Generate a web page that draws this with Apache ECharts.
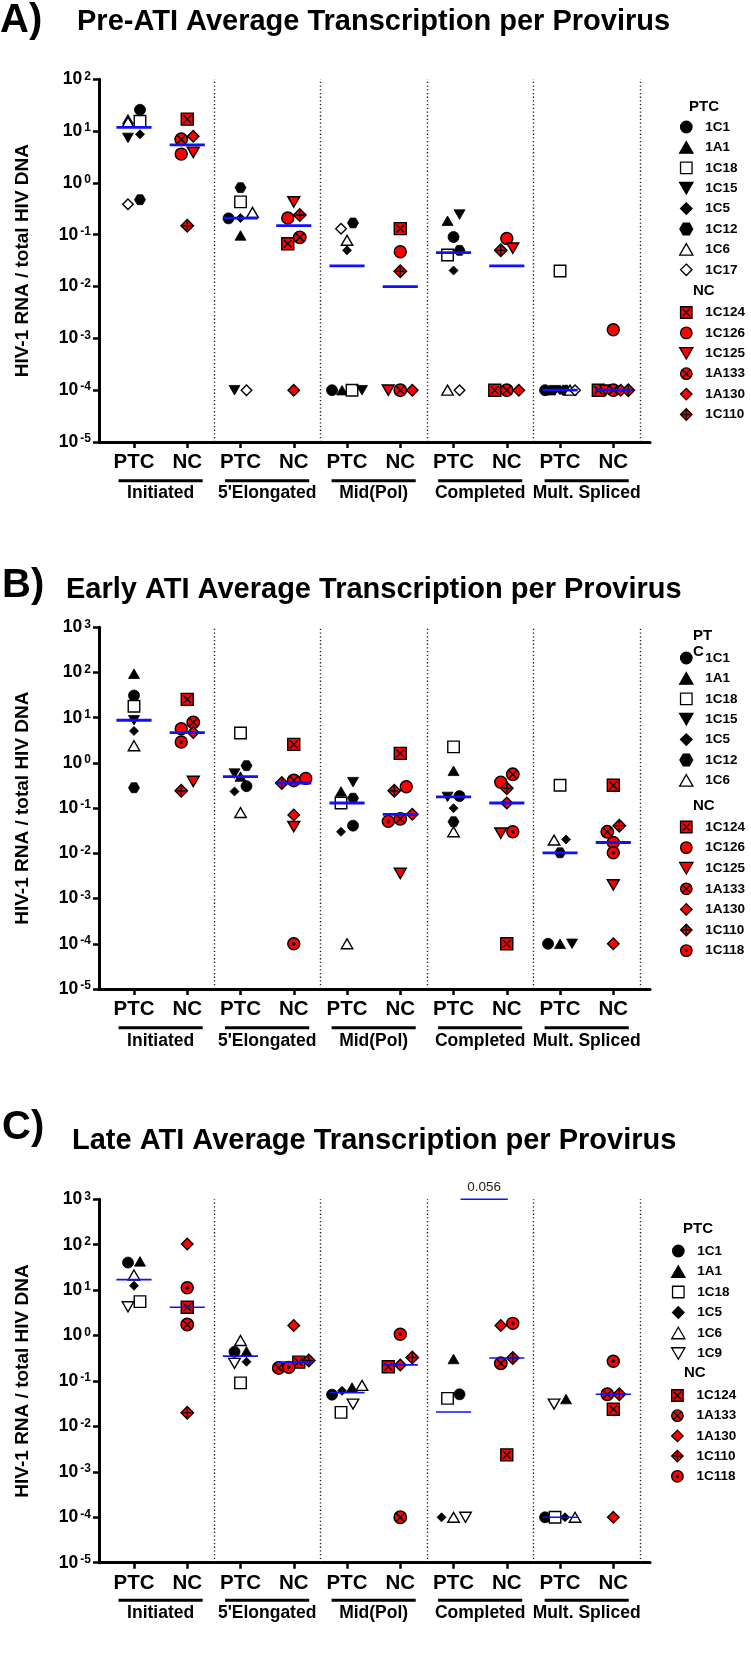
<!DOCTYPE html>
<html>
<head>
<meta charset="utf-8">
<title>Average Transcription per Provirus</title>
<script src="https://cdn.jsdelivr.net/npm/echarts@6/dist/echarts.min.js"></script>
<style>
  html, body { margin: 0; padding: 0; background: #fff; }
  #chart { width: 751px; height: 1659px; }
</style>
</head>
<body>
<div id="chart"></div>
<script>
// x axis: the two cohorts inside every transcript region
const regions = ['Initiated', "5'Elongated", 'Mid(Pol)', 'Completed', 'Mult. Spliced'];
const cohorts = ['PTC', 'NC'];
const columnLabels = ['PTC', 'NC', 'PTC', 'NC', 'PTC', 'NC', 'PTC', 'NC', 'PTC', 'NC'];

// each row: [Initiated, 5'Elongated, Mid(Pol), Completed, Mult. Spliced]
// 1e-4 = not detected (sits on the dotted line)

// A) Pre-ATI
const preNames = ['1C1', '1A1', '1C18', '1C15', '1C5', '1C12', '1C6', '1C17',
  '1C124', '1C126', '1C125', '1A133', '1A130', '1C110'];
const preCohort = ['PTC', 'PTC', 'PTC', 'PTC', 'PTC', 'PTC', 'PTC', 'PTC',
  'NC', 'NC', 'NC', 'NC', 'NC', 'NC'];
const preValues = [
  [25.8, 0.207, 1e-4, 0.0905, 1e-4],
  [17, 0.097, 1e-4, 0.186, 1e-4],
  [15.5, 0.43, 1e-4, 0.0406, 0.02],
  [7.4, 1e-4, 1e-4, 0.245, 1e-4],
  [8.7, 0.21, 0.05, 0.0204, 1e-4],
  [0.475, 0.81, 0.169, 0.05, 1e-4],
  [14.9, 0.27, 0.078, 1e-4, 1e-4],
  [0.386, 1e-4, 0.131, 1e-4, 1e-4],
  [17, 0.067, 0.131, 1e-4, 1e-4],
  [3.6, 0.21, 0.047, 0.0846, 0.00147],
  [3.9, 0.43, 1e-4, 0.055, 1e-4],
  [6.95, 0.089, 1e-4, 1e-4, 1e-4],
  [8.0, 1e-4, 1e-4, 1e-4, 1e-4],
  [0.149, 0.24, 0.0198, 0.05, 1e-4]
];

// B) Early ATI
const earlyNames = ['1C1', '1A1', '1C18', '1C15', '1C5', '1C12', '1C6',
  '1C124', '1C126', '1C125', '1A133', '1A130', '1C110', '1C118'];
const earlyCohort = ['PTC', 'PTC', 'PTC', 'PTC', 'PTC', 'PTC', 'PTC',
  'NC', 'NC', 'NC', 'NC', 'NC', 'NC', 'NC'];
const earlyValues = [
  [31, 0.306, 0.041, 0.185, 1e-4],
  [94, 0.5, 0.234, 0.67, 1e-4],
  [17.9, 4.6, 0.13, 2.27, 0.32],
  [8.8, 0.58, 0.376, 0.177, 1e-4],
  [5.1, 0.234, 0.03, 0.1, 0.0203],
  [0.283, 0.87, 0.166, 0.05, 0.0103],
  [2.4, 0.08, 1e-4, 0.03, 0.0197],
  [25.4, 2.58, 1.63, 1e-4, 0.32],
  [5.7, 0.455, 0.297, 0.376, 0.0174],
  [0.39, 0.039, 0.0036, 0.028, 0.002],
  [7.9, 0.41, 0.058, 0.56, 0.03],
  [4.7, 0.071, 0.073, 0.13, 1e-4],
  [0.242, 0.36, 0.242, 0.274, 0.041],
  [2.9, 1e-4, 0.051, 0.03, 0.0103]
];

// C) Late ATI
const lateNames = ['1C1', '1A1', '1C18', '1C5', '1C6', '1C9',
  '1C124', '1A133', '1A130', '1C110', '1C118'];
const lateCohort = ['PTC', 'PTC', 'PTC', 'PTC', 'PTC', 'PTC',
  'NC', 'NC', 'NC', 'NC', 'NC'];
const lateValues = [
  [40.5, 0.44, 0.05, 0.051, 1e-4],
  [43, 0.45, 0.072, 0.305, 0.04],
  [5.6, 0.091, 0.0204, 0.0415, 1e-4],
  [12.5, 0.265, 0.061, 1e-4, 1e-4],
  [21.6, 0.78, 0.08, 1e-4, 1e-4],
  [4.3, 0.245, 0.031, 1e-4, 0.031],
  [4.2, 0.26, 0.206, 0.00237, 0.0239],
  [1.75, 0.194, 1e-4, 0.245, 0.051],
  [104, 1.67, 0.226, 1.67, 1e-4],
  [0.0201, 0.283, 0.33, 0.32, 0.051],
  [11.3, 0.2, 1.07, 1.86, 0.273]
];
// Completed PTC vs NC, late ATI
const lateCompareColumns = [7, 8];
const lateCompareP = '0.056';

const RED = '#ff0000';
const BLUE = '#1010ff';
const FONT = "'Liberation Sans', Arial, Helvetica, sans-serif";
const Y_MIN = 1e-5;
const X_MIN = 0.343, X_MAX = 10.689;
const GRID_LEFT = 99, GRID_WIDTH = 551;

const shape = {
  circle: 'path://M0,5A5,5,0,1,1,10,5A5,5,0,1,1,0,5Z',
  triangle: 'path://M5,0L10,8.66L0,8.66Z',
  down: 'path://M0,0L10,0L5,8.66Z',
  square: 'path://M0,0L10,0L10,10L0,10Z',
  diamond: 'path://M5,0L10,5L5,10L0,5Z',
  hexagon: 'path://M2.6,0L7.4,0L10,4.5L7.4,9L2.6,9L0,4.5Z',
  squareX: 'path://M0,0L10,0L10,10L0,10Z M1.8,1.8L8.2,8.2 M8.2,1.8L1.8,8.2',
  circleX: 'path://M0,5A5,5,0,1,1,10,5A5,5,0,1,1,0,5Z M1.9,1.9L8.1,8.1 M8.1,1.9L1.9,8.1',
  diamondPlus: 'path://M5,0L10,5L5,10L0,5Z M5,1.6L5,8.4 M1.6,5L8.4,5',
  circleDot: 'path://M0,5A5,5,0,1,1,10,5A5,5,0,1,1,0,5Z M4.1,5A0.9,0.9,0,1,1,5.9,5A0.9,0.9,0,1,1,4.1,5Z'
};
const markers = {
  '1C1': { symbol: shape.circle, fill: '#000', size: 11 },
  '1A1': { symbol: shape.triangle, fill: '#000', size: 11 },
  '1C18': { symbol: shape.square, fill: '#fff', size: 11.5 },
  '1C15': { symbol: shape.down, fill: '#000', size: 11 },
  '1C5': { symbol: shape.diamond, fill: '#000', size: 9 },
  '1C12': { symbol: shape.hexagon, fill: '#000', size: 11 },
  '1C6': { symbol: shape.triangle, fill: '#fff', size: 11.5 },
  '1C17': { symbol: shape.diamond, fill: '#fff', size: 10.5 },
  '1C9': { symbol: shape.down, fill: '#fff', size: 11.5 },
  '1C124': { symbol: shape.squareX, fill: RED, size: 12 },
  '1C126': { symbol: shape.circle, fill: RED, size: 12 },
  '1C125': { symbol: shape.down, fill: RED, size: 12 },
  '1A133': { symbol: shape.circleX, fill: RED, size: 12.5 },
  '1A130': { symbol: shape.diamond, fill: RED, size: 11.5 },
  '1C110': { symbol: shape.diamondPlus, fill: RED, size: 12.5 },
  '1C118': { symbol: shape.circleDot, fill: RED, size: 12 }
};

const panels = [
  {
    letter: 'A)', title: 'Pre-ATI Average Transcription per Provirus',
    names: preNames, cohort: preCohort, values: preValues,
    top: 79.3, height: 362.7, yMax: 1e2, medianWidth: 2.8,
    letterTop: 1, titleLeft: 77, titleTop: 7,
    ptcHead: { text: 'PTC', left: 689, top: 99 }, ncHead: { left: 693, top: 283 },
    legendLeft: 679, ptcTop: 120, ncTop: 305.5, gapPtc: 6.4, gapNc: 6.4,
    barDy: 38.7, labelDy: 51
  },
  {
    letter: 'B)', title: 'Early ATI Average Transcription per Provirus',
    names: earlyNames, cohort: earlyCohort, values: earlyValues,
    top: 627.3, height: 361.7, yMax: 1e3, medianWidth: 2.8,
    letterTop: 566, titleLeft: 66, titleTop: 575,
    ptcHead: { text: 'PT\nC', left: 693, top: 628 }, ncHead: { left: 693, top: 798 },
    legendLeft: 679, ptcTop: 651, ncTop: 820, gapPtc: 6.4, gapNc: 6.6,
    barDy: 38.7, labelDy: 52
  },
  {
    letter: 'C)', title: 'Late ATI Average Transcription per Provirus',
    names: lateNames, cohort: lateCohort, values: lateValues,
    top: 1199.3, height: 363.4, yMax: 1e3, medianWidth: 1.6,
    letterTop: 1108, titleLeft: 72, titleTop: 1126,
    ptcHead: { text: 'PTC', left: 683, top: 1220.5 }, ncHead: { left: 684, top: 1364.5 },
    legendLeft: 671, ptcTop: 1244, ncTop: 1388.5, gapPtc: 6.5, gapNc: 6.2,
    barDy: 37.5, labelDy: 50.5,
    compare: true
  }
];

function median(arr) {
  const s = arr.slice().sort((a, b) => a - b);
  const m = Math.floor(s.length / 2);
  return s.length % 2 ? s[m] : (s[m - 1] + s[m]) / 2;
}

// spread points that share a height, like a column scatter plot
function swarm(pts, pxPerDecade) {
  pts.forEach(p => { p.y = Math.log10(p.v) * pxPerDecade; });
  const sorted = pts.slice().sort((a, b) => b.y - a.y);
  const rows = [];
  sorted.forEach(p => {
    const row = rows[rows.length - 1];
    if (row && row[0].y - p.y < 9.5) row.push(p);
    else rows.push([p]);
  });
  rows.forEach(row => {
    row.sort((a, b) => a.y - b.y);
    const k = row.length;
    const step = k > 1 ? Math.min(12, 30 / (k - 1)) : 0;
    row.forEach((p, i) => { p.dx = (i - (k - 1) / 2) * step; });
  });
  return pts;
}

const grid = [], xAxis = [], yAxis = [], series = [], legend = [], title = [];
const pxPerUnit = GRID_WIDTH / (X_MAX - X_MIN);

panels.forEach((p, pi) => {
  grid.push({ left: GRID_LEFT, width: GRID_WIDTH, top: p.top, height: p.height, outerBoundsMode: 'none' });
  xAxis.push({
    gridIndex: pi, type: 'value', min: X_MIN, max: X_MAX,
    splitLine: { show: false },
    axisLine: { show: true, lineStyle: { color: '#000', width: 3 } },
    axisTick: { show: true, customValues: columnLabels.map((c, i) => i + 1), length: 6, lineStyle: { color: '#000', width: 2.5 } },
    axisLabel: {
      show: true, customValues: columnLabels.map((c, i) => i + 1), margin: 10,
      formatter: v => columnLabels[Math.round(v) - 1],
      color: '#000', fontSize: 20.5, fontWeight: 'bold', fontFamily: FONT
    }
  });
  yAxis.push({
    gridIndex: pi, type: 'log', logBase: 10, min: Y_MIN, max: p.yMax, splitNumber: 10,
    splitLine: { show: false },
    axisLine: { show: true, lineStyle: { color: '#000', width: 3 } },
    axisTick: { show: true, length: 6, lineStyle: { color: '#000', width: 2.5 } },
    axisLabel: {
      margin: 8,
      formatter: v => '{b|10}{e|' + Math.round(Math.log10(v)) + '}',
      rich: {
        b: { fontSize: 17.5, fontWeight: 'bold', color: '#000', fontFamily: FONT },
        e: { fontSize: 12, fontWeight: 'bold', color: '#000', fontFamily: FONT, verticalAlign: 'top', padding: [0, 0, 0, 2] }
      }
    },
    name: 'HIV-1 RNA / total HIV DNA', nameLocation: 'middle', nameRotate: 90, nameGap: 67,
    nameTextStyle: { fontSize: 19, fontWeight: 'bold', color: '#000', fontFamily: FONT }
  });

  // horizontal positions and medians for each column
  const pxPerDecade = p.height / (Math.log10(p.yMax) - Math.log10(Y_MIN));
  const xs = p.names.map(() => regions.map(() => 0));
  const medians = [];
  regions.forEach((r, ri) => {
    cohorts.forEach((c, ci) => {
      const col = 2 * ri + ci + 1;
      const pts = [];
      p.names.forEach((n, si) => { if (p.cohort[si] === c) pts.push({ si: si, v: p.values[si][ri] }); });
      swarm(pts, pxPerDecade).forEach(q => { xs[q.si][ri] = col + q.dx / pxPerUnit; });
      medians.push([col, median(pts.map(q => q.v))]);
    });
  });

  p.names.forEach((n, si) => {
    const m = markers[n];
    const s = {
      type: 'scatter', name: n, xAxisIndex: pi, yAxisIndex: pi,
      symbol: m.symbol, symbolSize: m.size, symbolKeepAspect: true,
      itemStyle: { color: m.fill, borderColor: '#000', borderWidth: m.fill === '#000' ? 0.8 : 1.4, opacity: 1 },
      emphasis: { disabled: true }, silent: true, z: 3,
      data: p.values[si].map((v, ri) => [xs[si][ri], v])
    };
    if (si === 0) {
      s.markLine = {
        silent: true, symbol: ['none', 'none'], label: { show: false }, animation: false,
        lineStyle: { color: '#222', width: 1.4, type: [1.3, 2.4] },
        emphasis: { disabled: true },
        data: regions.map((r, ri) => ({ xAxis: 2 * ri + 2.5 })).concat([{ yAxis: 1e-4 }])
      };
    }
    series.push(s);
  });

  // median bars
  series.push({
    type: 'custom', xAxisIndex: pi, yAxisIndex: pi, silent: true, z: 4,
    encode: { x: 0, y: 1 },
    data: medians,
    renderItem: (params, api) => {
      const a = api.coord([api.value(0) - 0.33, api.value(1)]);
      const b = api.coord([api.value(0) + 0.33, api.value(1)]);
      return { type: 'line', shape: { x1: a[0], y1: a[1], x2: b[0], y2: b[1] }, style: { stroke: BLUE, lineWidth: p.medianWidth } };
    }
  });

  // region underlines and names below the axis
  series.push({
    type: 'custom', xAxisIndex: pi, yAxisIndex: pi, silent: true,
    encode: { x: 0, y: 1 },
    data: regions.map((r, ri) => [2 * ri + 1.5, Y_MIN, r]),
    renderItem: (params, api) => {
      const c = api.coord([api.value(0), Y_MIN]);
      const half = 0.79 * pxPerUnit;
      return {
        type: 'group', children: [
          { type: 'line', shape: { x1: c[0] - half, y1: c[1] + p.barDy, x2: c[0] + half, y2: c[1] + p.barDy }, style: { stroke: '#000', lineWidth: 3 } },
          { type: 'text', x: c[0], y: c[1] + p.labelDy, style: { text: regions[params.dataIndex], fill: '#000', font: 'bold 17.5px ' + FONT, align: 'center', verticalAlign: 'middle' } }
        ]
      };
    }
  });

  if (p.compare) {
    series.push({
      type: 'custom', xAxisIndex: pi, yAxisIndex: pi, silent: true,
      encode: { x: 0, y: 1 },
      data: [[lateCompareColumns[0], p.yMax, lateCompareColumns[1]]],
      renderItem: (params, api) => {
        const a = api.coord([api.value(0), api.value(1)]);
        const b = api.coord([api.value(2), api.value(1)]);
        return {
          type: 'group', children: [
            { type: 'line', shape: { x1: a[0] + 7, y1: a[1], x2: b[0] + 1, y2: b[1] }, style: { stroke: BLUE, lineWidth: 1.6 } },
            { type: 'text', x: (a[0] + 7 + b[0] + 1) / 2, y: a[1] - 12, style: { text: lateCompareP, fill: '#222', font: '13.5px ' + FONT, align: 'center', verticalAlign: 'middle' } }
          ]
        };
      }
    });
  }

  const ptcNames = p.names.filter((n, i) => p.cohort[i] === 'PTC');
  const ncNames = p.names.filter((n, i) => p.cohort[i] === 'NC');
  const legendBase = {
    orient: 'vertical', left: p.legendLeft, padding: 0, itemWidth: 28, itemHeight: 11.5,
    selectedMode: false, symbolKeepAspect: true,
    itemStyle: { borderWidth: 1.3, borderColor: '#000' },
    textStyle: { fontSize: 13.5, fontWeight: 'bold', color: '#000', fontFamily: FONT }
  };
  legend.push(Object.assign({}, legendBase, { top: p.ptcTop, itemGap: p.gapPtc, data: ptcNames }));
  legend.push(Object.assign({}, legendBase, { top: p.ncTop, itemGap: p.gapNc, data: ncNames }));

  const headStyle = { fontSize: 15, fontWeight: 'bold', color: '#000', fontFamily: FONT, lineHeight: 16 };
  title.push({ text: p.letter, left: pi === 0 ? 0 : 2, top: p.letterTop, padding: 0, textStyle: { fontSize: 40, fontWeight: 'bold', color: '#000', fontFamily: FONT } });
  title.push({ text: p.title, left: p.titleLeft, top: p.titleTop, padding: 0, textStyle: { fontSize: 29, fontWeight: 'bold', color: '#000', fontFamily: FONT } });
  title.push({ text: p.ptcHead.text, left: p.ptcHead.left, top: p.ptcHead.top, padding: 0, textStyle: headStyle });
  title.push({ text: 'NC', left: p.ncHead.left, top: p.ncHead.top, padding: 0, textStyle: headStyle });
});

const chart = echarts.init(document.getElementById('chart'), null, { renderer: 'canvas' });
chart.setOption({
  backgroundColor: '#fff',
  animation: false,
  title: title,
  legend: legend,
  grid: grid,
  xAxis: xAxis,
  yAxis: yAxis,
  series: series
});
window.addEventListener('resize', () => chart.resize());
</script>
</body>
</html>
